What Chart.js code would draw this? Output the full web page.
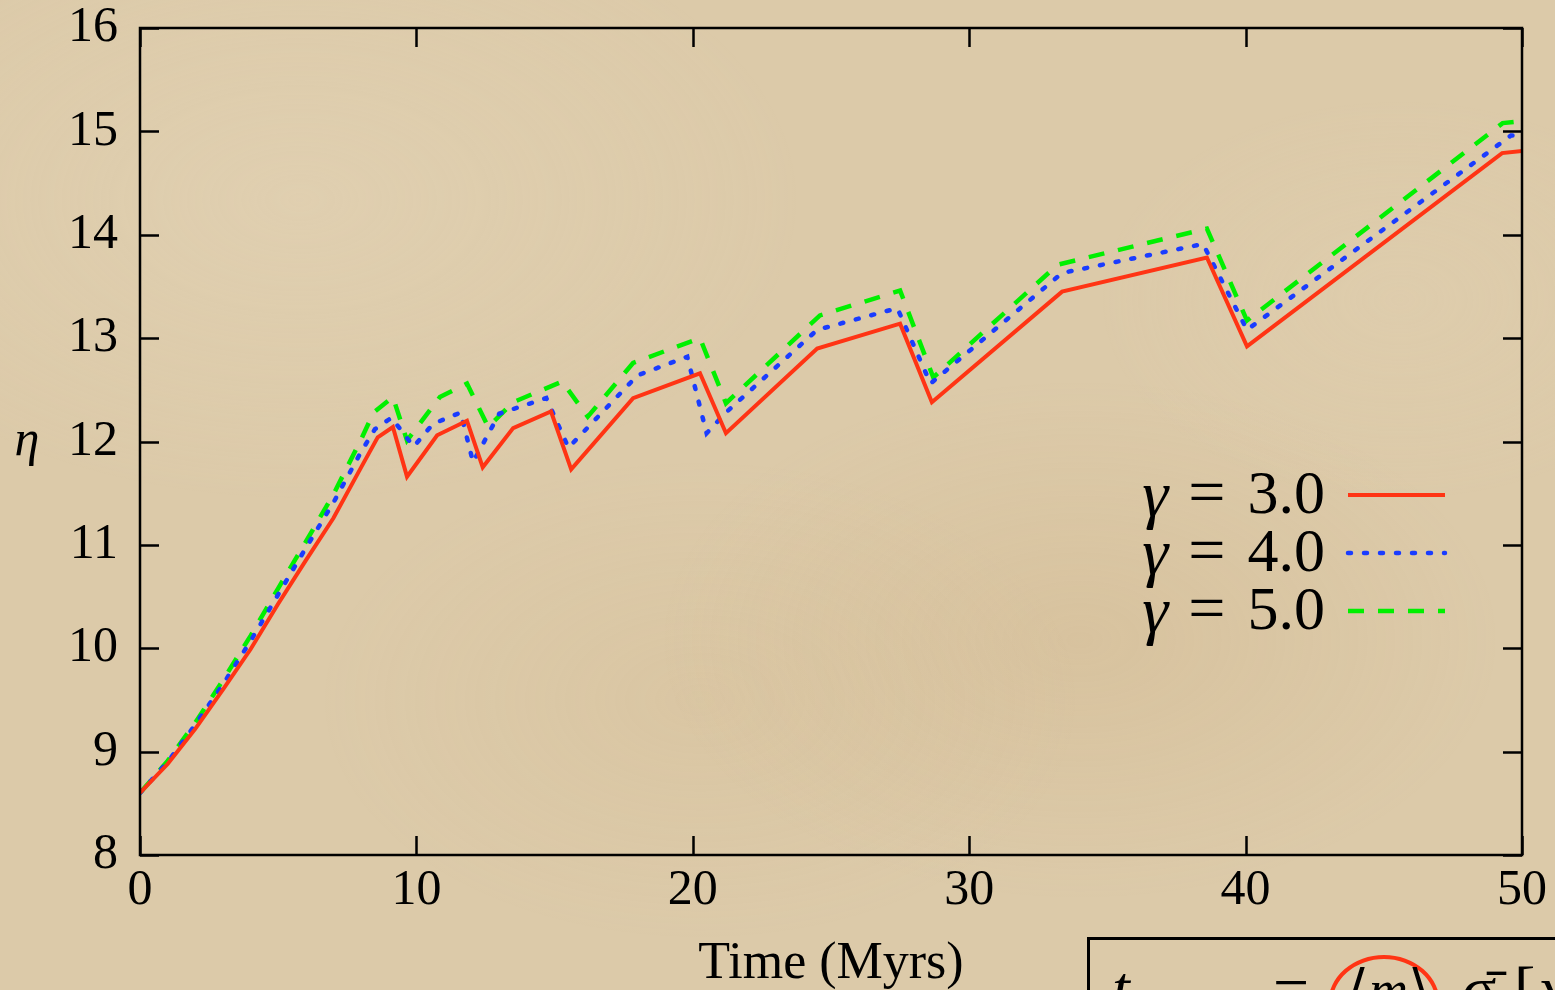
<!DOCTYPE html>
<html>
<head>
<meta charset="utf-8">
<title>eta vs time</title>
<script src="https://cdn.jsdelivr.net/npm/chart.js@4.4.0/dist/chart.umd.min.js"></script>
<style>
  html, body { margin: 0; padding: 0; width: 1555px; height: 990px; overflow: hidden; }
  body {
    background-color: #dccaa9;
    background-image:
      radial-gradient(ellipse 420px 260px at 1080px 640px, rgba(196,160,110,0.18), rgba(0,0,0,0)),
      radial-gradient(ellipse 500px 300px at 300px 200px, rgba(235,222,196,0.25), rgba(0,0,0,0)),
      radial-gradient(ellipse 380px 240px at 700px 700px, rgba(205,175,130,0.15), rgba(0,0,0,0)),
      radial-gradient(ellipse 300px 200px at 1400px 300px, rgba(230,214,185,0.2), rgba(0,0,0,0));
  }
  #chartBox { position: absolute; left: 0; top: 0; width: 1555px; height: 990px; }
  #formula {
    position: absolute; left: 1087px; top: 937px; width: 520px; height: 120px;
    border: 3px solid #000; box-sizing: border-box; overflow: hidden;
    font-family: 'Liberation Serif', serif; font-size: 64px; color: #000; white-space: nowrap;
  }
  #formula span { position: absolute; top: 12px; }
  #formula .t { left: 22px; font-style: italic; }
  #formula .eq { left: 183px; }
  #formula .circ {
    left: 238px; top: 15px; width: 104px; height: 90px;
    border: 4px solid #ff3414; border-radius: 50%;
  }
  #formula .m { left: 258px; top: 18px; font-size: 54px; }
  #formula .s { left: 372px; }
  #formula .br { left: 424px; }
  #formula .x { left: 448px; font-style: italic; }
</style>
</head>
<body>
<div id="chartBox"><canvas id="etaChart" width="1555" height="990"></canvas></div>
<div id="formula">
  <span class="t">t</span>
  <span class="eq">=</span>
  <span class="circ"></span>
  <span class="m">⟨<i>m</i>⟩</span>
  <span class="s">σ̄</span>
  <span class="br">[</span>
  <span class="x">x</span>
</div>
<script>
// ---- data ----
const xTicks = [0, 10, 20, 30, 40, 50];
const yTicks = [8, 9, 10, 11, 12, 13, 14, 15, 16];

const timeG3 = [0, 1, 2, 3, 4, 5, 6, 7, 8, 8.6, 9.15, 9.66, 10.75, 11.83, 12.4, 13.5, 14.87, 15.6, 17.84, 20.26, 21.2, 24.5, 27.5, 28.65, 33.36, 38.6, 40.05, 49.28, 50];
const etaG3  = [8.6, 8.88, 9.22, 9.6, 9.99, 10.43, 10.85, 11.26, 11.75, 12.04, 12.14, 11.66, 12.06, 12.2, 11.75, 12.13, 12.29, 11.73, 12.42, 12.66, 12.08, 12.9, 13.14, 12.38, 13.45, 13.78, 12.92, 14.79, 14.81];

const timeG4 = [0, 1, 2, 3, 4, 5, 6, 7, 8, 8.5, 9.1, 9.9, 10.6, 11.6, 12.05, 13.0, 14.7, 15.5, 18.0, 19.8, 20.5, 21.2, 24.5, 27.4, 28.6, 33.36, 38.46, 40.05, 49.6, 50];
const etaG4  = [8.6, 8.9, 9.26, 9.65, 10.07, 10.52, 10.97, 11.41, 11.9, 12.12, 12.23, 11.95, 12.17, 12.28, 11.8, 12.27, 12.42, 11.94, 12.64, 12.82, 12.08, 12.28, 13.08, 13.29, 12.56, 13.63, 13.91, 13.08, 14.96, 14.96];

const timeG5 = [0, 1, 2, 3, 4, 5, 6, 7, 8, 8.45, 9.15, 9.66, 10.85, 11.83, 12.6, 13.5, 15.27, 16.2, 17.84, 20.26, 21.2, 24.6, 27.5, 28.7, 33.2, 38.6, 40.05, 49.3, 50];
const etaG5  = [8.6, 8.91, 9.28, 9.69, 10.12, 10.58, 11.03, 11.49, 12.02, 12.28, 12.43, 12.01, 12.43, 12.56, 12.14, 12.38, 12.58, 12.24, 12.76, 13.0, 12.37, 13.22, 13.46, 12.62, 13.71, 14.06, 13.17, 15.08, 15.1];

const seriesLabels = ['3.0', '4.0', '5.0'];

const FONT = "'Liberation Serif', 'DejaVu Serif', serif";
const toPoints = (xs, ys) => xs.map((x, i) => ({ x, y: ys[i] }));

// ---- frame, inward ticks, eta label, legend ----
const framePlugin = {
  id: 'frame',
  afterDatasetsDraw(chart) {
    const { ctx, chartArea: a, scales } = chart;
    const tl = 19;
    ctx.save();
    ctx.strokeStyle = '#000';
    ctx.lineWidth = 2.5;
    ctx.beginPath();
    xTicks.forEach(v => {
      const px = Math.round(scales.x.getPixelForValue(v)) + 0.5;
      ctx.moveTo(px, a.bottom); ctx.lineTo(px, a.bottom - tl);
      ctx.moveTo(px, a.top);    ctx.lineTo(px, a.top + tl);
    });
    yTicks.forEach(v => {
      const py = Math.round(scales.y.getPixelForValue(v)) + 0.5;
      ctx.moveTo(a.left, py);  ctx.lineTo(a.left + tl, py);
      ctx.moveTo(a.right, py); ctx.lineTo(a.right - tl, py);
    });
    ctx.stroke();
    ctx.strokeRect(a.left, a.top, a.right - a.left, a.bottom - a.top);

    // y title (upright, not rotated)
    ctx.fillStyle = '#000';
    ctx.font = 'italic 50px ' + FONT;
    ctx.textAlign = 'center';
    ctx.textBaseline = 'middle';
    ctx.fillText('η', 27, (a.top + a.bottom) / 2);

    // legend inside the plot, text on the left of the sample
    const rowY0 = 495, rowGap = 58, textRight = 1325, lineX0 = 1348, lineX1 = 1445;
    chart.data.datasets.forEach((ds, i) => {
      const y = rowY0 + i * rowGap;
      ctx.textBaseline = 'middle';
      ctx.textAlign = 'right';
      ctx.font = '62px ' + FONT;
      ctx.fillText(seriesLabels[i], textRight, y + 2);
      const numW = ctx.measureText(seriesLabels[i]).width;
      const eqRight = textRight - numW - 22;
      ctx.font = '66px ' + FONT;
      ctx.fillText('=', eqRight, y + 2);
      const eqW = ctx.measureText('=').width;
      ctx.font = 'italic 66px ' + FONT;
      ctx.fillText('γ', eqRight - eqW - 20, y + 4);

      ctx.save();
      ctx.strokeStyle = ds.borderColor;
      ctx.lineWidth = ds.borderWidth;
      ctx.lineCap = ds.borderCapStyle || 'butt';
      ctx.setLineDash(ds.borderDash || []);
      ctx.beginPath();
      ctx.moveTo(lineX0, y);
      ctx.lineTo(lineX1, y);
      ctx.stroke();
      ctx.restore();
    });
    ctx.restore();
  }
};

new Chart(document.getElementById('etaChart'), {
  type: 'line',
  data: {
    datasets: [
      {
        label: 'γ = 3.0',
        data: toPoints(timeG3, etaG3),
        borderColor: '#ff3414',
        borderWidth: 4,
        borderDash: [],
      },
      {
        label: 'γ = 4.0',
        data: toPoints(timeG4, etaG4),
        borderColor: '#1a3cff',
        borderWidth: 4.5,
        borderDash: [3, 13],
        borderCapStyle: 'round',
      },
      {
        label: 'γ = 5.0',
        data: toPoints(timeG5, etaG5),
        borderColor: '#00f000',
        borderWidth: 4.5,
        borderDash: [16, 14],
      }
    ]
  },
  options: {
    responsive: false,
    devicePixelRatio: 1,
    animation: false,
    elements: {
      point: { radius: 0, hoverRadius: 0 },
      line: { tension: 0, fill: false }
    },
    layout: { padding: { top: 28, right: 33, left: 0, bottom: 0 } },
    plugins: {
      legend: { display: false },
      tooltip: { enabled: false }
    },
    scales: {
      x: {
        type: 'linear',
        min: 0,
        max: 50,
        afterBuildTicks: (s) => { s.ticks = xTicks.map(v => ({ value: v })); },
        afterFit: (s) => { s.height = 135; s.paddingLeft = 0; s.paddingRight = 0; },
        grid: { display: false, drawTicks: false },
        border: { display: false },
        ticks: {
          color: '#000',
          padding: 6,
          maxRotation: 0,
          font: { family: FONT, size: 50 }
        },
        title: {
          display: true,
          text: 'Time (Myrs)',
          color: '#000',
          padding: { top: 0, bottom: -6 },
          font: { family: FONT, size: 52 }
        }
      },
      y: {
        type: 'linear',
        min: 8,
        max: 16,
        afterBuildTicks: (s) => { s.ticks = yTicks.map(v => ({ value: v })); },
        afterFit: (s) => { s.width = 140; s.paddingTop = 0; s.paddingBottom = 0; },
        grid: { display: false, drawTicks: false },
        border: { display: false },
        ticks: {
          color: '#000',
          padding: 22,
          font: { family: FONT, size: 50 }
        }
      }
    }
  },
  plugins: [framePlugin]
});
</script>
</body>
</html>
